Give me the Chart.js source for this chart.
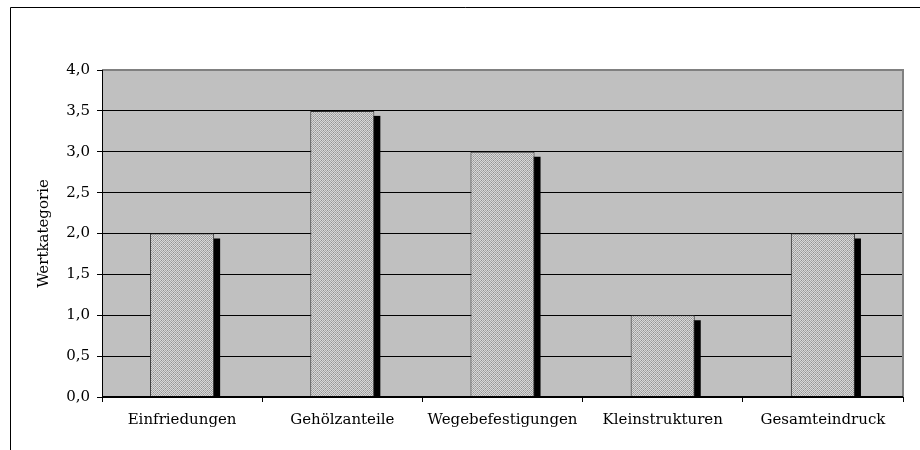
<!DOCTYPE html>
<html><head><meta charset="utf-8">
<script src="https://cdn.jsdelivr.net/npm/chart.js@4/dist/chart.umd.min.js"></script>
<style>html,body{margin:0;padding:0;background:#fff;}#wrap{width:920px;height:450px;position:relative;}</style>
</head><body><div id="wrap"><canvas id="c" width="920" height="450"></canvas></div>
<script>
const categories = ["Einfriedungen", "Gehölzanteile", "Wegebefestigungen", "Kleinstrukturen", "Gesamteindruck"];
const values = [2.0, 3.5, 3.0, 1.0, 2.0];
const yTicks = [0, 0.5, 1.0, 1.5, 2.0, 2.5, 3.0, 3.5, 4.0];
const yTitle = "Wertkategorie";

function makePattern() {
  const p = document.createElement('canvas');
  p.width = 4; p.height = 4;
  const g = p.getContext('2d');
  g.fillStyle = '#a8a8a8'; g.fillRect(0,0,4,4);
  g.fillStyle = '#d8d8d8';
  [[0,0],[2,0],[1,1],[3,1],[0,2],[2,2],[1,3],[3,3]].forEach(([x,y])=>g.fillRect(x,y,1,1));
  g.fillStyle = '#909090';
  [[1,0],[3,2]].forEach(([x,y])=>g.fillRect(x,y,1,1));
  return document.getElementById('c').getContext('2d').createPattern(p, 'repeat');
}

const framePlugin = {
  id: 'frame',
  beforeDraw(chart) {
    const {ctx, chartArea: a} = chart;
    ctx.save();
    ctx.fillStyle = '#fff';
    ctx.fillRect(0,0,chart.width,chart.height);
    ctx.fillStyle = '#c0c0c0';
    ctx.fillRect(a.left, a.top, a.right - a.left, a.bottom - a.top);
    ctx.strokeStyle = '#000'; ctx.lineWidth = 1;
    ctx.beginPath();
    ctx.moveTo(10.5, 450); ctx.lineTo(10.5, 7.5); ctx.lineTo(920, 7.5);
    ctx.stroke();
    ctx.restore();
  },
  beforeDatasetsDraw(chart) {
    const {ctx, chartArea: a} = chart;
    const meta = chart.getDatasetMeta(0);
    ctx.save();
    ctx.beginPath(); ctx.rect(a.left, a.top, a.right - a.left, a.bottom - a.top); ctx.clip();
    ctx.fillStyle = '#000';
    meta.data.forEach(el => {
      const w = el.width;
      ctx.fillRect(el.x - w/2 + 6, el.y + 5, w, el.base - el.y);
    });
    ctx.restore();
  },
  afterDraw(chart) {
    const {ctx, chartArea: a} = chart;
    ctx.save();
    ctx.strokeStyle = '#808080'; ctx.lineWidth = 2;
    ctx.beginPath();
    ctx.moveTo(a.left, a.top); ctx.lineTo(a.right, a.top); ctx.lineTo(a.right, a.bottom);
    ctx.stroke();
    ctx.strokeStyle = '#000'; ctx.lineWidth = 1;
    ctx.beginPath();
    ctx.moveTo(a.left + 0.5, a.top); ctx.lineTo(a.left + 0.5, a.bottom);
    ctx.moveTo(a.left, a.bottom - 0.5); ctx.lineTo(a.right, a.bottom - 0.5);
    ctx.stroke();
    ctx.restore();
  }
};

const font = {family: "'DejaVu Serif', 'Liberation Serif', serif", size: 15};

new Chart(document.getElementById('c'), {
  type: 'bar',
  data: {
    labels: categories,
    datasets: [{
      data: values,
      backgroundColor: makePattern(),
      borderColor: '#303030',
      borderWidth: 1,
      barPercentage: 0.4,
      categoryPercentage: 1.0
    }]
  },
  options: {
    responsive: false,
    animation: false,
    devicePixelRatio: 1,
    layout: {padding: {top: 70, right: 17, left: 35, bottom: 0}},
    plugins: {legend: {display: false}, tooltip: {enabled: false}},
    scales: {
      x: {
        offset: true,
        grid: {offset: true, drawOnChartArea: false, color: '#000', tickLength: 5, lineWidth: 1},
        border: {display: true, color: '#000'},
        ticks: {color: '#000', font: font, padding: 9, maxRotation: 0, autoSkip: false},
        afterFit(s) { s.height = 53; }
      },
      y: {
        min: 0, max: 4,
        afterBuildTicks(s) { s.ticks = yTicks.map(v => ({value: v})); },
        grid: {color: '#000', lineWidth: 1, tickLength: 5, drawOnChartArea: true},
        border: {display: true, color: '#000'},
        ticks: {color: '#000', font: font, padding: 7,
          callback: v => Number(v).toFixed(1).replace('.', ',')},
        title: {display: true, text: yTitle, color: '#000', font: font, padding: {top: 0, bottom: 0}},
        afterFit(s) { s.width = 67; }
      }
    }
  },
  plugins: [framePlugin]
});
</script>
</body></html>
